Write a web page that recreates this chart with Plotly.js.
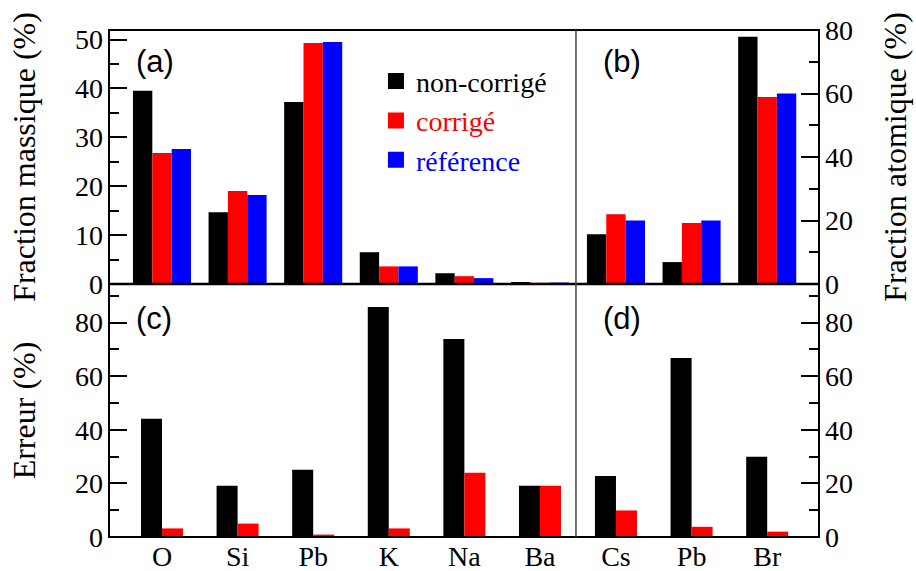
<!DOCTYPE html>
<html>
<head>
<meta charset="utf-8">
<script src="https://cdn.plot.ly/plotly-3.0.1.min.js"></script>
<style>html,body{margin:0;padding:0;background:#fff;}#chart{width:916px;height:571px;}</style>
</head>
<body>
<div id="chart"></div>
<script>
// ---- data ----
const catsMass = ['O', 'Si', 'Pb', 'K', 'Na', 'Ba'];
const catsAtom = ['Cs', 'Pb', 'Br'];

// (a) mass fraction (%)
const massNonCorr = [39.5, 14.7, 37.2, 6.5, 2.2, 0.4];
const massCorr    = [26.8, 19.0, 49.3, 3.6, 1.6, 0.25];
const massRef     = [27.6, 18.2, 49.5, 3.6, 1.2, 0.3];

// (b) atomic fraction (%)
const atomNonCorr = [15.7, 6.9, 77.9];
const atomCorr    = [22.0, 19.2, 58.9];
const atomRef     = [20.0, 20.0, 60.0];

// (c) error on mass fraction (%)
const errMassNonCorr = [44.1, 19.1, 25.1, 85.8, 73.9, 19.1];
const errMassCorr    = [3.2, 5.0, 0.9, 3.2, 24.0, 19.1];

// (d) error on atomic fraction (%)
const errAtomNonCorr = [22.8, 66.8, 29.9];
const errAtomCorr    = [9.9, 3.8, 2.0];

const seriesNames = ['non-corrigé', 'corrigé', 'référence'];
const seriesColors = ['#000000', '#ff0000', '#0000ff'];

// ---- styling ----
const SERIF = 'Liberation Serif';
const SANS = 'Liberation Sans';
const W3 = 0.256, OFF3 = [-0.384, -0.128, 0.128];
const W2 = 0.278, OFF2 = [-0.278, 0];

function bar(x, y, i, xa, ya, w, off) {
  return {type: 'bar', x: x, y: y, xaxis: xa, yaxis: ya,
    width: w, offset: off, marker: {color: seriesColors[i], line: {width: 0}},
    showlegend: false, hoverinfo: 'x+y', name: seriesNames[i]};
}

const traces = [
  bar(catsMass, massNonCorr, 0, 'x', 'y', W3, OFF3[0]),
  bar(catsMass, massCorr, 1, 'x', 'y', W3, OFF3[1]),
  bar(catsMass, massRef, 2, 'x', 'y', W3, OFF3[2]),
  bar(catsAtom, atomNonCorr, 0, 'x2', 'y2', W3, OFF3[0]),
  bar(catsAtom, atomCorr, 1, 'x2', 'y2', W3, OFF3[1]),
  bar(catsAtom, atomRef, 2, 'x2', 'y2', W3, OFF3[2]),
  bar(catsMass, errMassNonCorr, 0, 'x3', 'y3', W2, OFF2[0]),
  bar(catsMass, errMassCorr, 1, 'x3', 'y3', W2, OFF2[1]),
  bar(catsAtom, errAtomNonCorr, 0, 'x4', 'y4', W2, OFF2[0]),
  bar(catsAtom, errAtomCorr, 1, 'x4', 'y4', W2, OFF2[1])
];

// legend entries (square swatches, coloured text)
seriesNames.forEach(function (nm, i) {
  traces.push({type: 'scatter', mode: 'markers', x: [null], y: [null], xaxis: 'x', yaxis: 'y',
    marker: {symbol: 'square', size: 16, color: seriesColors[i]},
    name: '<span style="color:' + seriesColors[i] + '">' + nm + '</span>',
    legendgroup: 'g' + i, showlegend: true, hoverinfo: 'skip'});
});

const LEFT = 0.6577, MID = 0.499;
function tickFont() { return {family: SERIF, size: 28, color: '#000'}; }
function titleFont() { return {family: SERIF, size: 32, color: '#000'}; }
function minorT() { return {dtick: 10, ticklen: 10, tickwidth: 2, tickcolor: '#000', ticks: 'inside'}; }

function yax(extra) {
  return Object.assign({
    ticks: 'inside', ticklen: 18, tickwidth: 2, tickcolor: '#000',
    showgrid: false, zeroline: false, showline: false,
    tickfont: tickFont(), automargin: false, fixedrange: true, ticklabelstandoff: 5
  }, extra);
}
function xax(extra) {
  return Object.assign({
    type: 'category', ticks: '', showgrid: false, zeroline: false, showline: false,
    tickfont: tickFont(), automargin: false, fixedrange: true
  }, extra);
}

const minorA = minorT(); minorA.dtick = 5;

const layout = {
  width: 916, height: 571,
  margin: {l: 109, r: 97, t: 30, b: 34, pad: 0},
  font: {family: SERIF, size: 28, color: '#000'},
  paper_bgcolor: '#fff', plot_bgcolor: '#fff',
  barmode: 'overlay',
  showlegend: true,
  legend: {x: 0.376, y: 0.948, xanchor: 'left', yanchor: 'top',
    font: {family: SERIF, size: 28, color: '#000'}, bgcolor: 'rgba(0,0,0,0)',
    tracegroupgap: 0, itemclick: false, itemdoubleclick: false},
  xaxis: xax({domain: [0, LEFT], anchor: 'y', range: [-0.701, 5.476], showticklabels: false}),
  xaxis2: xax({domain: [LEFT, 1], anchor: 'y2', range: [-0.529, 2.685], showticklabels: false}),
  xaxis3: xax({domain: [0, LEFT], anchor: 'y3', range: [-0.701, 5.476]}),
  xaxis4: xax({domain: [LEFT, 1], anchor: 'y4', range: [-0.529, 2.685]}),
  yaxis: yax({domain: [MID, 1], anchor: 'x', range: [0, 51.95], dtick: 10, minor: minorA,
    title: {text: 'Fraction massique (%)', font: titleFont(), standoff: 29}}),
  yaxis2: yax({domain: [MID, 1], anchor: 'x2', side: 'right', range: [0, 80], dtick: 20, minor: minorT(),
    title: {text: 'Fraction atomique (%)', font: titleFont(), standoff: 31}}),
  yaxis3: yax({domain: [0, MID], anchor: 'x3', range: [0, 94.4], dtick: 20, minor: minorT(),
    title: {text: 'Erreur (%)', font: titleFont(), standoff: 29}}),
  yaxis4: yax({domain: [0, MID], anchor: 'x4', side: 'right', range: [0, 94.4], dtick: 20, minor: minorT()}),
  shapes: [
    {type: 'rect', xref: 'paper', yref: 'paper', x0: 0, x1: 1, y0: 0, y1: 1,
      line: {color: '#000', width: 2}, layer: 'above'},
    {type: 'line', xref: 'paper', yref: 'paper', x0: 0, x1: 1, y0: MID, y1: MID,
      line: {color: '#000', width: 2.5}, layer: 'above'},
    {type: 'line', xref: 'paper', yref: 'paper', x0: LEFT, x1: LEFT, y0: 0, y1: 1,
      line: {color: '#444', width: 1.5}, layer: 'above'}
  ],
  annotations: [
    {text: '(a)', xref: 'x domain', yref: 'y domain', x: 0.054, y: 0.875, xanchor: 'left', yanchor: 'middle', showarrow: false, font: {family: SANS, size: 31, color: '#000'}},
    {text: '(b)', xref: 'x2 domain', yref: 'y2 domain', x: 0.105, y: 0.875, xanchor: 'left', yanchor: 'middle', showarrow: false, font: {family: SANS, size: 31, color: '#000'}},
    {text: '(c)', xref: 'x3 domain', yref: 'y3 domain', x: 0.054, y: 0.862, xanchor: 'left', yanchor: 'middle', showarrow: false, font: {family: SANS, size: 31, color: '#000'}},
    {text: '(d)', xref: 'x4 domain', yref: 'y4 domain', x: 0.105, y: 0.862, xanchor: 'left', yanchor: 'middle', showarrow: false, font: {family: SANS, size: 31, color: '#000'}}
  ]
};

Plotly.newPlot('chart', traces, layout, {displayModeBar: false, staticPlot: true});
</script>
</body>
</html>
